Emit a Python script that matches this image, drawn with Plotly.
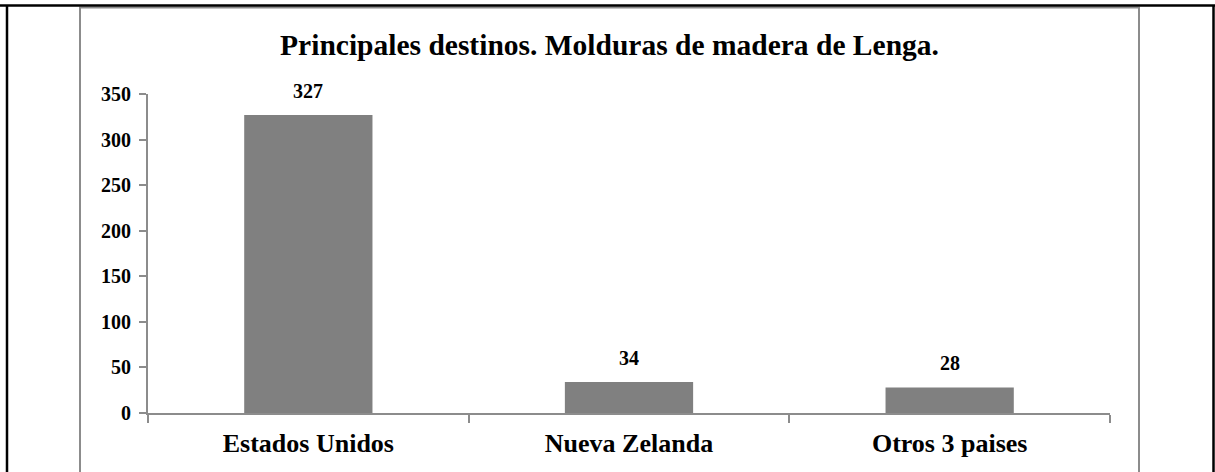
import plotly.graph_objects as go

categories = ["Estados Unidos", "Nueva Zelanda", "Otros 3 paises"]
values = [327, 34, 28]
title_text = "Principales destinos. Molduras de madera de Lenga."
y_ticks = [0, 50, 100, 150, 200, 250, 300, 350]

W, H = 1215, 472
L, R = 148, 1110
T, B = 94, 412.7

def px_x(p):
    return (p - L) / (R - L)

def px_y(p):
    return (B - p) / (B - T)

FONT = "Liberation Serif, Times New Roman, serif"
AX = "#8c8c8c"

fig = go.Figure(go.Bar(
    x=categories, y=values, marker=dict(color="#808080", line=dict(width=0)),
    hoverinfo="skip",
))

for c, v in zip(categories, values):
    fig.add_annotation(x=c, y=v, text=f"<b>{v}</b>", showarrow=False,
                       yanchor="bottom", yshift=11,
                       font=dict(family=FONT, size=20, color="black"))

fig.update_layout(
    width=W, height=H,
    margin=dict(l=L, r=W - R, t=T, b=H - B, pad=0),
    paper_bgcolor="white", plot_bgcolor="white",
    bargap=0.6, showlegend=False,
    title=dict(text=f"<b>{title_text}</b>", x=609.5 / W, xanchor="center",
               y=1 - 45 / H, yanchor="middle", xref="container", yref="container",
               font=dict(family=FONT, size=29.5, color="black")),
    xaxis=dict(type="category", showline=True, linecolor=AX, linewidth=2,
               ticks="outside", tickson="boundaries", ticklen=8, tickwidth=2, tickcolor=AX,
               showgrid=False, zeroline=False, ticklabelstandoff=6,
               tickfont=dict(family=FONT, size=26, color="black", weight="bold")),
    yaxis=dict(range=[0, 350], tickvals=y_ticks, showline=True, linecolor=AX, linewidth=2,
               ticks="outside", ticklen=7, tickwidth=2, tickcolor=AX,
               showgrid=False, zeroline=False, ticklabelstandoff=4,
               tickfont=dict(family=FONT, size=20, color="black", weight="bold")),
)

# decorative frames (outer black page frame and inner gray chart border)
fig.add_shape(type="rect", xref="paper", yref="paper",
              x0=px_x(80), x1=px_x(1139), y0=px_y(490), y1=px_y(7.5),
              line=dict(color="#8c8c8c", width=2), layer="below")
fig.add_shape(type="line", xref="paper", yref="paper",
              x0=px_x(7), x1=px_x(7), y0=px_y(490), y1=px_y(5.5),
              line=dict(color="black", width=2.5))
fig.add_shape(type="line", xref="paper", yref="paper",
              x0=px_x(1213.5), x1=px_x(1213.5), y0=px_y(490), y1=px_y(5.5),
              line=dict(color="black", width=2.5))
fig.add_shape(type="line", xref="paper", yref="paper",
              x0=px_x(0), x1=px_x(1215), y0=px_y(5.5), y1=px_y(5.5),
              line=dict(color="black", width=2.5))

fig.write_html("out.html", config={"displayModeBar": False},
               post_script="document.body.style.margin='0';document.body.style.overflow='hidden';")
